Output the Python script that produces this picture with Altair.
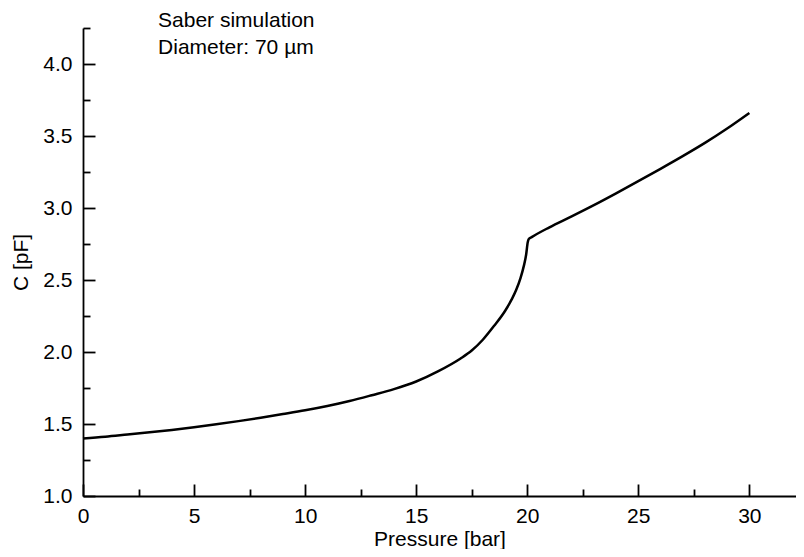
import altair as alt
import pandas as pd

# ---- data ----
pressure = [0, 1, 2, 3, 4, 5, 6, 7, 8, 9, 10, 11, 12, 13, 14, 15, 16, 17, 17.5,
            18, 18.5, 19, 19.3, 19.5, 19.7, 19.85, 19.95, 20.02, 20.07, 20.2,
            21, 22, 23, 24, 25, 26, 27, 28, 29, 30]
capacitance = [1.400, 1.412, 1.427, 1.442, 1.459, 1.478, 1.498, 1.520, 1.544, 1.569,
               1.595, 1.625, 1.660, 1.700, 1.742, 1.795, 1.867, 1.955, 2.010,
               2.085, 2.180, 2.285, 2.365, 2.430, 2.515, 2.600, 2.675, 2.760, 2.785,
               2.798, 2.866, 2.942, 3.020, 3.102, 3.186, 3.272, 3.360, 3.452, 3.552,
               3.660]

x_major = [0, 5, 10, 15, 20, 25, 30]
x_minor = [2.5, 7.5, 12.5, 17.5, 22.5, 27.5]
y_major = [1.0, 1.5, 2.0, 2.5, 3.0, 3.5, 4.0]
y_minor = [1.25, 1.75, 2.25, 2.75, 3.25, 3.75, 4.25]

note_lines = ["Saber simulation", "Diameter: 70 µm"]
note_x = [3.38, 3.38]
note_y = [4.259, 4.067]

X_DOMAIN = [0, 32.1]
Y_DOMAIN = [1.0, 4.25]

FONT = "Liberation Sans"
FS = 21

curve_df = pd.DataFrame({"p": pressure, "c": capacitance})
xminor_df = pd.DataFrame({"p": x_minor})
yminor_df = pd.DataFrame({"c": y_minor})
note_df = pd.DataFrame({"txt": note_lines, "p": note_x, "c": note_y})

xscale = alt.Scale(domain=X_DOMAIN, nice=False, zero=False)
yscale = alt.Scale(domain=Y_DOMAIN, nice=False, zero=False)

common_axis = dict(
    grid=False,
    domainColor="black",
    domainWidth=1.8,
    tickColor="black",
    tickWidth=1.8,
    labelFont=FONT,
    labelFontSize=FS,
    labelColor="black",
    labelFlush=False,
    labelOverlap=False,
    titleFont=FONT,
    titleFontSize=FS,
    titleColor="black",
    titleFontWeight="normal",
)

x_axis = alt.Axis(
    values=x_major, orient="bottom", title="Pressure [bar]",
    tickSize=alt.ExprRef("-12"), labelPadding=21, labelBaseline="top",
    format="d", titleY=49, titleBaseline="alphabetic", **common_axis
)
y_axis = alt.Axis(
    values=y_major, orient="left", title="C [pF]",
    tickSize=alt.ExprRef("-12"), labelPadding=23, format=".1f",
    titleX=-56, titleBaseline="alphabetic", titleAngle=270, **common_axis
)

line = alt.Chart(curve_df).mark_line(
    color="black", strokeWidth=2.5, interpolate="monotone"
).encode(
    x=alt.X("p:Q", scale=xscale, axis=x_axis),
    y=alt.Y("c:Q", scale=yscale, axis=y_axis),
)

x_minor_axis = alt.Axis(
    values=x_minor, orient="bottom", title=None, labels=False, domain=False,
    grid=False, tickColor="black", tickWidth=1.8, tickSize=alt.ExprRef("-7"),
)
y_minor_axis = alt.Axis(
    values=y_minor, orient="left", title=None, labels=False, domain=False,
    grid=False, tickColor="black", tickWidth=1.8, tickSize=alt.ExprRef("-7"),
)

xminor = alt.Chart(xminor_df).mark_point(opacity=0).encode(
    x=alt.X("p:Q", scale=xscale, axis=x_minor_axis),
    y=alt.value(0),
)
yminor = alt.Chart(yminor_df).mark_point(opacity=0).encode(
    y=alt.Y("c:Q", scale=yscale, axis=y_minor_axis),
    x=alt.value(0),
)

notes = alt.Chart(note_df).mark_text(
    align="left", baseline="alphabetic", font=FONT, fontSize=FS, color="black"
).encode(
    x=alt.X("p:Q", scale=xscale, axis=None),
    y=alt.Y("c:Q", scale=yscale, axis=None),
    text="txt:N",
)

chart = (
    alt.layer(line, xminor, yminor, notes)
    .resolve_axis(x="independent", y="independent")
    .properties(
        width=713,
        height=468,
        background="white",
        autosize=alt.AutoSizeParams(type="none"),
        padding={"left": 75, "top": 20, "right": 0, "bottom": 53},
    )
    .configure_view(stroke=None)
)

chart.save("out.html", embed_options={"renderer": "svg", "actions": False})
